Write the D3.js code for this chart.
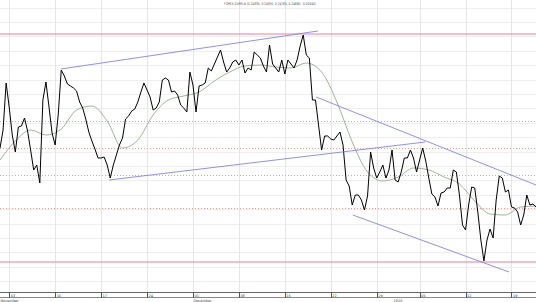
<!DOCTYPE html>
<html>
<head>
<meta charset="utf-8">
<script src="https://cdn.jsdelivr.net/npm/d3@7"></script>
<style>
  body { margin: 0; background: #fff; }
  svg { display: block; font-family: "DejaVu Sans", sans-serif; }
</style>
</head>
<body>
<script>
// closing prices, one value per 8-hour bar
const closes = [
  0.2604, 0.2640, 0.2734, 0.2686, 0.2630, 0.2596, 0.2646, 0.2648, 0.2664, 0.2638,
  0.2600, 0.2560, 0.2570, 0.2534, 0.2700, 0.2736, 0.2686, 0.2634, 0.2610, 0.2670,
  0.2760, 0.2748, 0.2732, 0.2728, 0.2724, 0.2718, 0.2696, 0.2684, 0.2662, 0.2636,
  0.2618, 0.2602, 0.2584, 0.2584, 0.2586, 0.2570, 0.2544, 0.2570, 0.2590, 0.2610,
  0.2624, 0.2662, 0.2668, 0.2678, 0.2682, 0.2696, 0.2716, 0.2734, 0.2720, 0.2706,
  0.2680, 0.2684, 0.2696, 0.2740, 0.2744, 0.2740, 0.2716, 0.2718, 0.2710, 0.2690,
  0.2684, 0.2676, 0.2756, 0.2730, 0.2676, 0.2728, 0.2730, 0.2734, 0.2764, 0.2758,
  0.2772, 0.2786, 0.2800, 0.2776, 0.2756, 0.2764, 0.2776, 0.2780, 0.2770, 0.2780,
  0.2754, 0.2764, 0.2760, 0.2796, 0.2790, 0.2784, 0.2768, 0.2756, 0.2810, 0.2772,
  0.2764, 0.2756, 0.2780, 0.2752, 0.2780, 0.2772, 0.2764, 0.2780, 0.2808, 0.2830,
  0.2790, 0.2784, 0.2700, 0.2700, 0.2650, 0.2600, 0.2628, 0.2628, 0.2622, 0.2620,
  0.2628, 0.2636, 0.2610, 0.2540, 0.2528, 0.2490, 0.2510, 0.2510, 0.2500, 0.2480,
  0.2508, 0.2596, 0.2564, 0.2544, 0.2556, 0.2570, 0.2544, 0.2560, 0.2600, 0.2540,
  0.2536, 0.2556, 0.2584, 0.2584, 0.2600, 0.2584, 0.2556, 0.2580, 0.2604, 0.2578,
  0.2544, 0.2512, 0.2506, 0.2488, 0.2514, 0.2516, 0.2524, 0.2524, 0.2560, 0.2556,
  0.2510, 0.2450, 0.2440, 0.2490, 0.2526, 0.2524, 0.2476, 0.2420, 0.2378, 0.2420,
  0.2442, 0.2424, 0.2500, 0.2548, 0.2544, 0.2516, 0.2520, 0.2486, 0.2484, 0.2476,
  0.2450, 0.2470, 0.2510, 0.2490, 0.2492, 0.2486
];

// moving average, one value every 5 bars
const avgStep = 5;
const avg = [
  0.2580, 0.2618, 0.2640, 0.2630, 0.2642, 0.2680, 0.2688, 0.2658, 0.2604, 0.2620,
  0.2670, 0.2700, 0.2708, 0.2716, 0.2738, 0.2756, 0.2768, 0.2770, 0.2766, 0.2764,
  0.2774, 0.2756, 0.2696, 0.2616, 0.2556, 0.2538, 0.2546, 0.2564, 0.2560, 0.2546,
  0.2532, 0.2498, 0.2472, 0.2470, 0.2486, 0.2488
];

// drawn trend lines: [bar from, price from, bar to, price to]
const trendLines = [
  [19.9, 0.2762, 103.8, 0.2838],
  [35.6, 0.2540, 138.8, 0.2616],
  [103.2, 0.2706, 175.0, 0.2530],
  [115.2, 0.2470, 166.2, 0.2356]
];

const solidLevels = [0.2832, 0.2376];
const dottedLevels = [0.2658, 0.2604, 0.2550, 0.2484];

const tickBars = [3, 18, 33, 48, 63, 78, 93, 108, 123, 137, 152, 167];
const tickLabels = ['03', '10', '17', '24', '01', '08', '15', '22', '29', '05', '12', '19'];
const periodBars = [0, 63, 128.3];
const periodLabels = ['November', 'December', '2016'];

const title = 'FOREX ZARPLN (0.24830, 0.24950, 0.24760, 0.24860, -0.00040)';

const W = 536, H = 302, plotBottom = 292;

const svg = d3.select('body').append('svg')
  .attr('width', W)
  .attr('height', H);

const x = d3.scaleLinear().domain([0, closes.length - 1]).range([0, W]);
const y = d3.scaleLinear().domain([0.23, 0.29]).range([300, 0]);

svg.append('clipPath').attr('id', 'plot')
  .append('rect').attr('x', 0).attr('y', 0).attr('width', W).attr('height', plotBottom);

// grid
const gridValues = d3.range(0, 20).map(k => 0.28848 - 0.00288 * k);
const grid = svg.append('g').attr('clip-path', 'url(#plot)');
grid.selectAll('line.h')
  .data(gridValues)
  .enter().append('line')
  .attr('class', 'h')
  .attr('x1', 0).attr('x2', W)
  .attr('y1', d => Math.round(y(d)) + 0.5).attr('y2', d => Math.round(y(d)) + 0.5)
  .attr('stroke', '#eeeeee').attr('stroke-width', 1);
grid.selectAll('line.v')
  .data(tickBars)
  .enter().append('line')
  .attr('class', 'v')
  .attr('x1', d => Math.round(x(d)) + 0.5).attr('x2', d => Math.round(x(d)) + 0.5)
  .attr('y1', 0).attr('y2', plotBottom)
  .attr('stroke', '#e6e6e6').attr('stroke-width', 1);

// horizontal levels
svg.append('g')
  .attr('shape-rendering', 'crispEdges')
  .selectAll('line')
  .data(dottedLevels)
  .enter().append('line')
  .attr('x1', 0).attr('x2', W)
  .attr('y1', d => Math.round(y(d)) + 0.5).attr('y2', d => Math.round(y(d)) + 0.5)
  .attr('stroke', '#ec9f90').attr('stroke-width', 1)
  .attr('stroke-dasharray', '1,2');
svg.append('g')
  .selectAll('line')
  .data(solidLevels)
  .enter().append('line')
  .attr('x1', 0).attr('x2', W)
  .attr('y1', d => y(d)).attr('y2', d => y(d))
  .attr('stroke', '#e8809a').attr('stroke-width', 1.2);

const plot = svg.append('g').attr('clip-path', 'url(#plot)');

// moving average
plot.append('path')
  .datum(avg)
  .attr('fill', 'none')
  .attr('stroke', '#94ab8e')
  .attr('stroke-width', 0.9)
  .attr('d', d3.line()
    .x((d, i) => x(i * avgStep))
    .y(d => y(d))
    .curve(d3.curveMonotoneX));

// price
plot.append('path')
  .datum(closes)
  .attr('fill', 'none')
  .attr('stroke', '#000')
  .attr('stroke-width', 1)
  .attr('d', d3.line()
    .x((d, i) => x(i))
    .y(d => y(d)));

// trend lines
plot.selectAll('line.trend')
  .data(trendLines)
  .enter().append('line')
  .attr('x1', d => x(d[0])).attr('y1', d => y(d[1]))
  .attr('x2', d => x(d[2])).attr('y2', d => y(d[3]))
  .attr('stroke', '#8585e4').attr('stroke-width', 0.9);

// title
svg.append('text')
  .attr('x', 270).attr('y', 4.5)
  .attr('text-anchor', 'middle')
  .attr('font-size', 3.6)
  .attr('textLength', 92)
  .attr('lengthAdjust', 'spacingAndGlyphs')
  .attr('fill', '#555')
  .text(title);

// time axis bar
const axis = svg.append('g');
axis.append('line')
  .attr('x1', 0).attr('x2', W)
  .attr('y1', plotBottom + 0.5).attr('y2', plotBottom + 0.5)
  .attr('stroke', '#666');
axis.append('line')
  .attr('x1', 0).attr('x2', W)
  .attr('y1', plotBottom + 5.5).attr('y2', plotBottom + 5.5)
  .attr('stroke', '#888');
axis.selectAll('line.tick')
  .data(tickBars)
  .enter().append('line')
  .attr('x1', d => Math.round(x(d)) + 0.5).attr('x2', d => Math.round(x(d)) + 0.5)
  .attr('y1', plotBottom).attr('y2', plotBottom + 6)
  .attr('stroke', '#555');
axis.selectAll('text.tick')
  .data(tickBars)
  .enter().append('text')
  .attr('x', d => x(d) + 1.5)
  .attr('y', plotBottom + 4.8)
  .attr('font-size', 3.5)
  .attr('fill', '#444')
  .text((d, i) => tickLabels[i]);
axis.selectAll('text.period')
  .data(periodBars)
  .enter().append('text')
  .attr('x', d => x(d) + 0.5)
  .attr('y', plotBottom + 9.5)
  .attr('font-size', 3.5)
  .attr('fill', '#444')
  .text((d, i) => periodLabels[i]);
</script>
</body>
</html>
